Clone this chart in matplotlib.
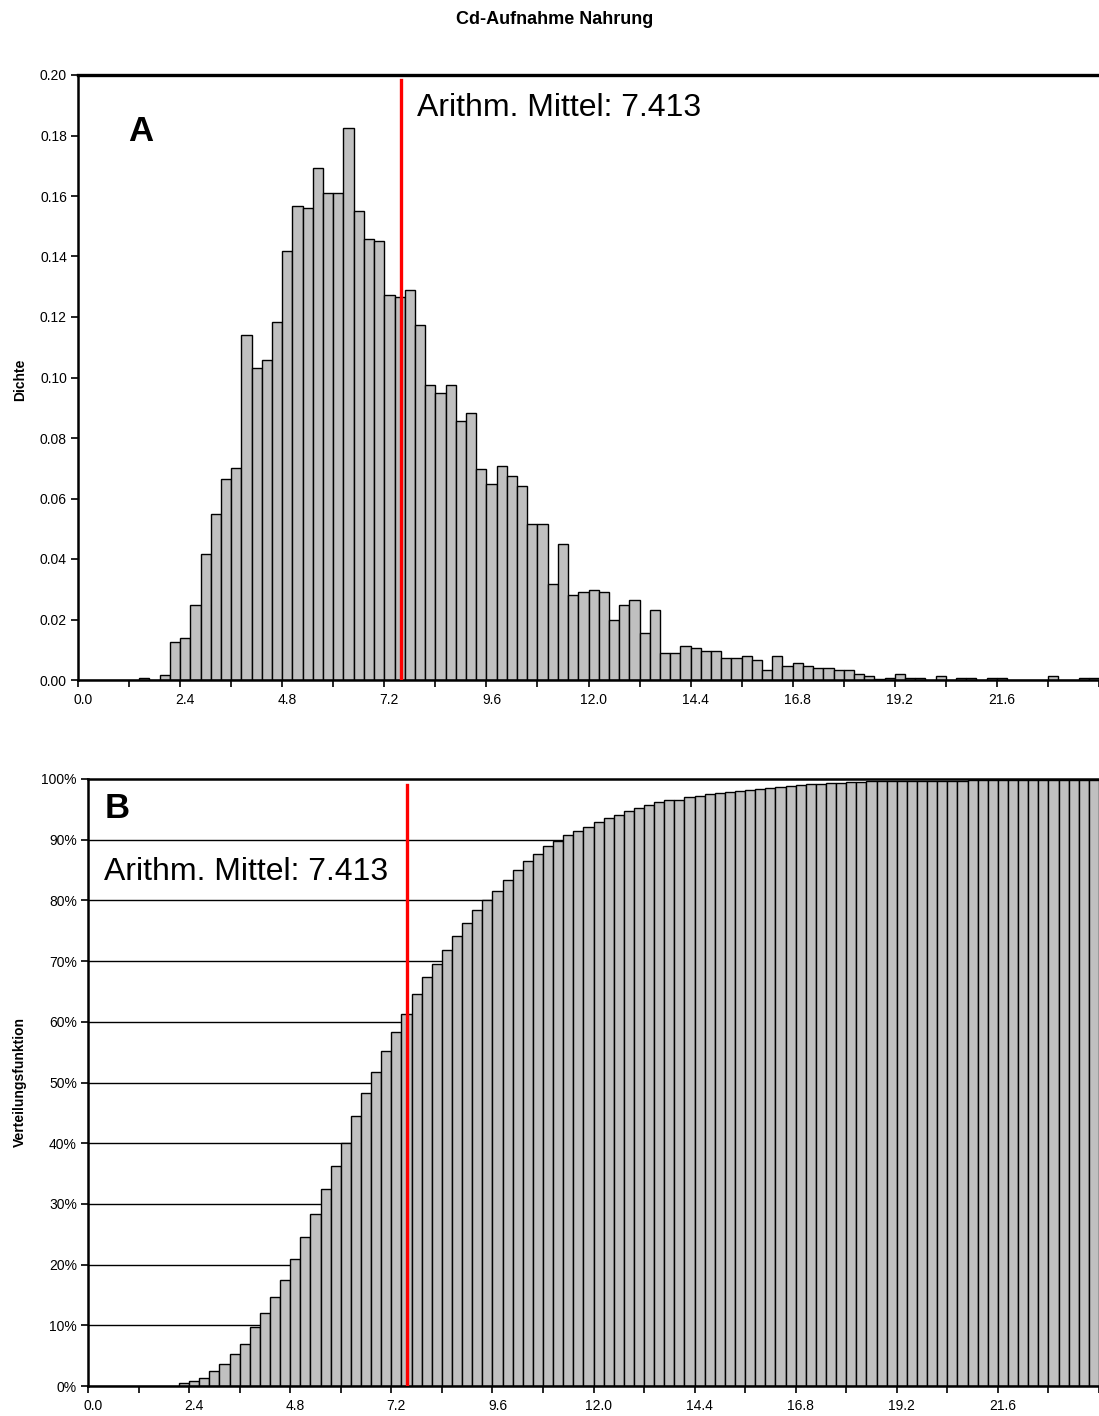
import matplotlib
matplotlib.use("Agg")
import matplotlib.pyplot as plt
import numpy as np

plt.rcParams['font.family'] = ['Liberation Sans', 'DejaVu Sans']

# histogram classes: 100 bins of width 0.24 starting at 0.0
bin_width = 0.24
mean_value = 7.413

# A: density per class
density = [
    0, 0, 0, 0, 0, 0, 0.0005, 0, 0.0016, 0.0125,
    0.0139, 0.0249, 0.0416, 0.0550, 0.0666, 0.0700, 0.1140, 0.1032, 0.1058, 0.1183,
    0.1418, 0.1567, 0.1559, 0.1693, 0.1610, 0.1610, 0.1825, 0.1550, 0.1458, 0.1450,
    0.1274, 0.1267, 0.1290, 0.1174, 0.0974, 0.0949, 0.0974, 0.0857, 0.0883, 0.0699,
    0.0649, 0.0707, 0.0673, 0.0642, 0.0515, 0.0515, 0.0316, 0.0448, 0.0282, 0.0290,
    0.0298, 0.0290, 0.0198, 0.0248, 0.0264, 0.0156, 0.0232, 0.0089, 0.0089, 0.0114,
    0.0106, 0.0097, 0.0097, 0.0072, 0.0072, 0.0079, 0.0065, 0.0032, 0.0079, 0.0046,
    0.0055, 0.0047, 0.0039, 0.0039, 0.0032, 0.0032, 0.0021, 0.0013, 0.0002, 0.0006,
    0.0021, 0.0006, 0.0006, 0, 0.0013, 0, 0.0006, 0.0006, 0, 0.0006,
    0.0006, 0, 0, 0, 0, 0.0013, 0, 0, 0.0006, 0.0006,
]

# B: cumulative distribution in percent
cumulative = [
    0, 0, 0, 0, 0, 0, 0.01, 0.01, 0.05, 0.44,
    0.77, 1.37, 2.4, 3.66, 5.25, 7.0, 9.67, 12.1, 14.7, 17.5,
    20.9, 24.6, 28.4, 32.4, 36.3, 40.1, 44.5, 48.3, 51.7, 55.2,
    58.3, 61.3, 64.5, 67.3, 69.6, 71.9, 74.2, 76.3, 78.4, 80.1,
    81.6, 83.4, 85.0, 86.5, 87.7, 89.0, 89.8, 90.8, 91.4, 92.1,
    92.9, 93.6, 94.1, 94.7, 95.3, 95.7, 96.2, 96.5, 96.6, 97.0,
    97.2, 97.5, 97.7, 97.9, 98.0, 98.2, 98.4, 98.5, 98.7, 98.8,
    99.0, 99.1, 99.2, 99.3, 99.4, 99.5, 99.55, 99.6, 99.6, 99.62,
    99.67, 99.69, 99.7, 99.7, 99.73, 99.73, 99.75, 99.77, 99.77, 99.78,
    99.8, 99.8, 99.8, 99.8, 99.8, 99.83, 99.83, 99.83, 99.85, 99.86,
]

x_labels = ['0.0', '2.4', '4.8', '7.2', '9.6', '12.0', '14.4', '16.8', '19.2', '21.6']
label_pos = [0, 10, 20, 30, 40, 50, 60, 70, 80, 90]

fig = plt.figure(figsize=(10.99, 14.16), dpi=100)
W, H = 1099, 1416

ax1 = fig.add_axes([78 / W, (H - 680) / H, (W - 78) / W, 605 / H])
ax2 = fig.add_axes([88 / W, (H - 1386) / H, (W - 88) / W, 607 / H])

idx = np.arange(len(density))
mean_pos = mean_value / bin_width


def style_x(ax, px_per_cat, axis_px):
    ax.set_xlim(-0.5, -0.5 + axis_px / px_per_cat)
    ax.set_xticks(label_pos, x_labels)
    ax.set_xticks(np.arange(-0.5, 100, 5), minor=True)
    ax.tick_params(axis='x', which='major', length=0, pad=9, labelsize=10)
    ax.tick_params(axis='x', which='minor', length=5, width=1.2, direction='out')
    ax.tick_params(axis='y', length=5, width=1.2, direction='out', labelsize=10, pad=3)
    ax.spines['right'].set_visible(False)
    for s in ['left', 'bottom', 'top']:
        ax.spines[s].set_linewidth(1.8)
        ax.spines[s].set_color('black')


# --- A: density histogram
ax1.bar(idx, density, width=1.0, color='#c0c0c0', edgecolor='black', linewidth=1.0, zorder=2)
ax1.set_ylim(0, 0.20)
ax1.set_yticks(np.arange(0, 0.201, 0.02))
ax1.yaxis.set_major_formatter(matplotlib.ticker.FormatStrFormatter('%.2f'))
style_x(ax1, 10.27, W - 78)
ax1.spines['top'].set_linewidth(2.4)
ax1.axvline(mean_pos + 0.2, ymin=0, ymax=0.992, color='red', linewidth=2.4, zorder=3)
ax1.text(0.332, 0.945, 'Arithm. Mittel: 7.413', transform=ax1.transAxes,
         fontsize=23, ha='left', va='center')
ax1.text(0.0617, 0.907, 'A', transform=ax1.transAxes, fontsize=25,
         fontweight='bold', ha='center', va='center')

# --- B: cumulative distribution
ax2.bar(idx, cumulative, width=1.0, color='#c0c0c0', edgecolor='black', linewidth=1.0, zorder=2)
ax2.set_ylim(0, 100)
ax2.set_yticks(np.arange(0, 101, 10), [f'{v}%' for v in range(0, 101, 10)])
for v in range(10, 100, 10):
    ax2.axhline(v, color='black', linewidth=1.0, zorder=1)
style_x(ax2, 10.17, W - 88)
ax2.axvline(mean_pos + 0.15, ymin=0, ymax=0.99, color='red', linewidth=2.4, zorder=3)
ax2.text(0.0158, 0.8468, 'Arithm. Mittel: 7.413', transform=ax2.transAxes,
         fontsize=23, ha='left', va='center')
ax2.text(0.0287, 0.9506, 'B', transform=ax2.transAxes, fontsize=25,
         fontweight='bold', ha='center', va='center')

fig.text(555 / W, (H - 19) / H, 'Cd-Aufnahme Nahrung', fontsize=13,
         fontweight='bold', ha='center', va='center',
         family=['Liberation Sans Narrow', 'Liberation Sans'])
fig.text(20 / W, (H - 380) / H, 'Dichte', rotation=90, fontsize=10,
         fontweight='bold', ha='center', va='center')
fig.text(20 / W, (H - 1082) / H, 'Verteilungsfunktion', rotation=90, fontsize=10,
         fontweight='bold', ha='center', va='center')

fig.savefig('out.png', dpi=100)
